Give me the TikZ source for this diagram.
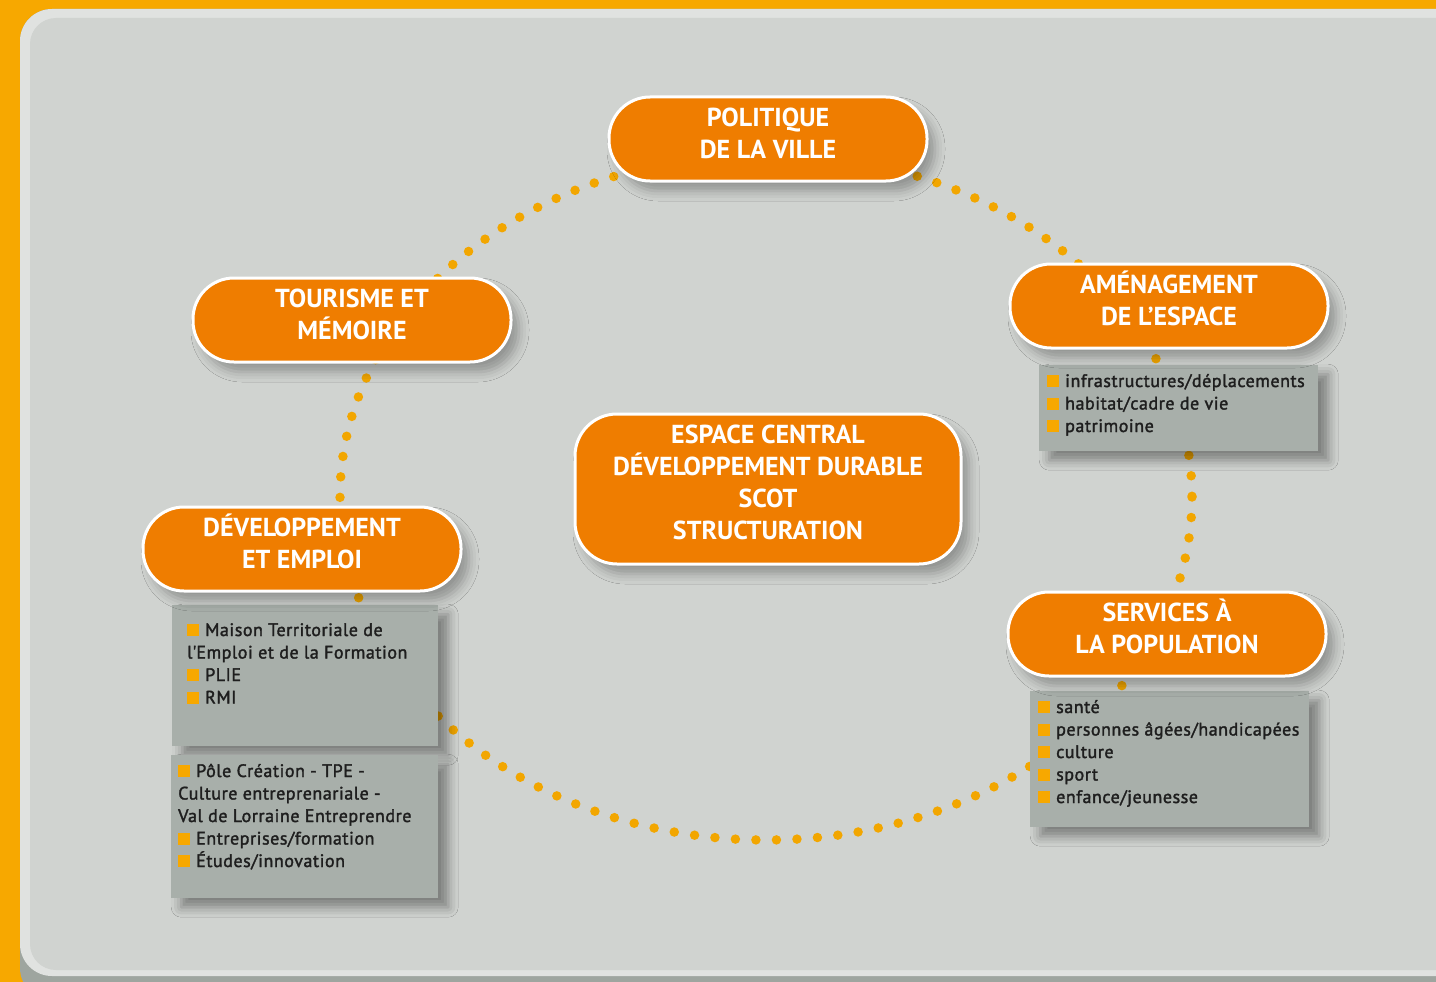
\documentclass[tikz,border=0pt]{standalone}
\usepackage{fontspec}
\setmainfont{PT Sans}
\newfontfamily\listfont{PT Sans}[FakeBold=1.8, LetterSpace=3]
\usetikzlibrary{shadows.blur}
\definecolor{framec}{HTML}{F7A800}
\definecolor{panelc}{HTML}{D0D3D0}
\definecolor{panellight}{HTML}{E0E2E0}
\definecolor{paneldark}{HTML}{9EA59F}
\definecolor{nodec}{HTML}{EF7D00}
\definecolor{greyboxc}{HTML}{A8AFAA}
\definecolor{dotc}{HTML}{F2A600}
\definecolor{bulc}{HTML}{F7A800}
\definecolor{txtc}{HTML}{1E1E1E}
\newcommand{\bsq}{\textcolor{bulc}{\rule{12pt}{12pt}}\hspace{6pt}}
\newcommand{\pilltext}[2][3pt]{\raisebox{#1}[\height][\depth]{\begin{tabular}{@{}c@{}}#2\end{tabular}}}
\tikzset{
  pill/.style={draw=white, line width=3pt, fill=nodec, rounded corners=41pt,
    minimum width=318pt, minimum height=84pt, text=white, inner sep=0pt,
    font=\bfseries\fontsize{26}{32}\selectfont,
    blur shadow={shadow xshift=8pt, shadow yshift=-10pt, shadow blur radius=10pt, shadow opacity=30}},
  listbox/.style={fill=greyboxc, inner sep=0pt, anchor=north west,
    blur shadow={shadow xshift=10pt, shadow yshift=-9pt, shadow blur radius=10pt, shadow opacity=40}},
  listtxt/.style={inner sep=0pt, anchor=base west, text=txtc,
    font=\listfont\fontsize{18}{22.5}\selectfont},
  dotline/.style={draw=dotc, line width=9.5pt, line cap=round, dash pattern=on 0pt off 20.53pt}
}
\begin{document}
\begin{tikzpicture}[x=1pt,y=-1pt]
\useasboundingbox (0,0) rectangle (1436,982);
% frame and panel
\fill[framec] (0,0) rectangle (1436,982);
\fill[paneldark, rounded corners=32pt] (20,9) rectangle (1480,1000);
\fill[panellight, rounded corners=32pt] (20,9) rectangle (1480,976);
\fill[panelc, rounded corners=26pt] (30,18) rectangle (1480,970);
% dotted ring
\draw[dotline] (766,497) ellipse [x radius=426, y radius=343];
% grey list boxes
\node[listbox, minimum width=279pt, minimum height=86pt] (amenbox) at (1039,365) {};
\node[listbox, minimum width=266pt, minimum height=141pt] (devbox1) at (172,605) {};
\node[listbox, minimum width=267pt, minimum height=143pt] (devbox2) at (171,755) {};
\node[listbox, minimum width=279pt, minimum height=136pt] (servbox) at (1030,691) {};
% main nodes
\node[pill] (pol) at (768,139) {\pilltext{POLITIQUE\\DE LA VILLE}};
\node[pill] (tour) at (352,320) {\pilltext{TOURISME ET\\MÉMOIRE}};
\node[pill] (amen) at (1169,306) {\pilltext{AMÉNAGEMENT\\DE L’ESPACE}};
\node[pill] (dev) at (302,549) {\pilltext{DÉVELOPPEMENT\\ET EMPLOI}};
\node[pill] (serv) at (1167,634) {\pilltext{SERVICES À\\LA POPULATION}};
\node[pill, minimum width=386pt, minimum height=150pt, rounded corners=42pt] (central) at (768,489)
  {\pilltext[4pt]{ESPACE CENTRAL\\DÉVELOPPEMENT DURABLE\\SCOT\\STRUCTURATION}};
% list texts
\node[listtxt] (amentxt) at (1047,387) {\parbox[t]{275pt}{\bsq infrastructures/déplacements\\\bsq habitat/cadre de vie\\\bsq patrimoine}};
\node[listtxt] (devtxt1) at (187,636) {\parbox[t]{260pt}{\bsq Maison Territoriale de\\l\textquotesingle Emploi et de la Formation\\\bsq PLIE\\\bsq RMI}};
\node[listtxt] (devtxt2) at (178,777) {\parbox[t]{260pt}{\bsq Pôle Création - TPE -\\Culture entreprenariale -\\Val de Lorraine Entreprendre\\\bsq Entreprises/formation\\\bsq Études/innovation}};
\node[listtxt] (servtxt) at (1038,713) {\parbox[t]{275pt}{\bsq santé\\\bsq personnes âgées/handicapées\\\bsq culture\\\bsq sport\\\bsq enfance/jeunesse}};
\end{tikzpicture}
\end{document}
